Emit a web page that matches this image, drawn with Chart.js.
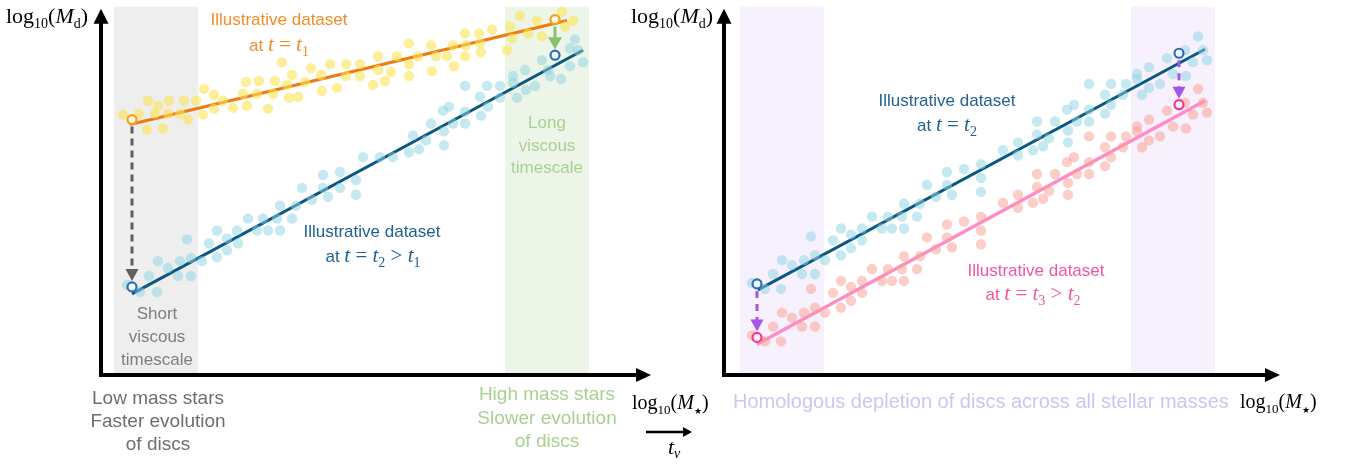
<!DOCTYPE html>
<html>
<head>
<meta charset="utf-8">
<script src="https://cdn.jsdelivr.net/npm/chart.js@4.4.1/dist/chart.umd.min.js"></script>
<style>
  html, body { margin: 0; padding: 0; background: #fff; }
  body { width: 1352px; height: 465px; position: relative; overflow: hidden; }
  canvas { position: absolute; top: 0; }
  #left { left: 0; }
  #right { left: 600px; }
</style>
</head>
<body>
<canvas id="left" width="720" height="465"></canvas>
<canvas id="right" width="752" height="465"></canvas>
<script>
// schematic values (x = log10 M*, y = log10 Md, arbitrary units)
const yellowT1 = [
  [0.44,5.26],[0.76,5.28],[0.92,4.96],[0.94,5.54],[1.08,5.28],[1.14,5.44],[1.24,4.98],[1.34,5.28],
  [1.36,5.54],[1.58,5.28],[1.66,5.54],[1.74,5.16],[1.90,5.54],[2.04,5.26],[2.06,5.78],[2.26,5.66],
  [2.26,5.38],[2.44,5.54],[2.64,5.40],[2.84,5.68],[2.90,5.92],[2.92,5.44],[3.12,5.68],[3.16,5.94],
  [3.34,5.38],[3.44,5.68],[3.48,5.94],[3.62,6.32],[3.72,5.86],[3.76,5.60],[3.82,6.06],[3.94,5.62],
  [4.08,5.92],[4.20,6.20],[4.40,6.06],[4.42,5.74],[4.58,6.28],[4.72,5.80],[4.90,6.28],[4.90,6.04],
  [5.18,6.28],[5.18,6.04],[5.44,5.86],[5.54,6.44],[5.54,6.16],[5.68,5.94],[5.80,6.12],[5.92,6.44],
  [6.16,6.70],[6.16,6.28],[6.16,6.04],[6.34,6.44],[6.60,6.66],[6.62,6.14],[6.70,6.44],[6.92,6.44],
  [7.04,6.66],[7.06,6.24],[7.28,6.90],[7.28,6.44],[7.30,6.66],[7.56,6.90],[7.58,6.70],[7.60,6.52],
  [7.82,6.98],[8.12,6.56],[8.18,7.04],[8.22,6.80],[8.38,7.26],[8.54,6.90],[8.72,7.16],[8.82,6.84],
  [9.22,7.34],[9.28,7.04],[9.44,7.16]
];
const cyanT2Left = [
  [0.52,1.82],[0.78,1.68],[0.96,2.00],[1.12,1.68],[1.14,2.30],[1.34,2.16],[1.54,2.00],[1.58,2.30],
  [1.72,2.74],[1.80,2.00],[1.80,2.36],[2.02,2.30],[2.16,2.66],[2.32,2.92],[2.32,2.38],[2.52,2.76],
  [2.52,2.52],[2.72,2.92],[2.74,2.66],[2.94,3.16],[3.12,2.92],[3.24,3.16],[3.34,2.92],[3.52,3.16],
  [3.58,3.42],[3.58,2.92],[3.82,3.16],[3.90,3.42],[4.02,3.78],[4.22,3.54],[4.44,4.04],[4.44,3.78],
  [4.54,3.60],[4.78,4.10],[4.78,3.78],[5.10,3.94],[5.10,3.64],[5.24,4.40],[5.58,4.40],[5.84,4.40],
  [6.16,4.50],[6.24,4.84],[6.36,4.56],[6.50,4.74],[6.60,5.08],[6.84,5.34],[6.86,4.92],[6.86,4.64],
  [6.96,5.42],[7.04,5.08],[7.28,5.84],[7.28,5.32],[7.28,5.08],[7.58,5.62],[7.60,5.24],[7.72,5.84],
  [7.74,5.42],[7.98,5.84],[7.98,5.60],[8.24,6.04],[8.24,5.90],[8.32,5.60],[8.48,6.16],[8.50,5.76],
  [8.68,5.84],[8.82,6.36],[8.94,6.16],[8.98,6.04],[9.20,5.98],[9.38,6.60],[9.38,6.24],[9.48,6.78],
  [9.54,6.56],[9.64,6.32]
];
const cyanT2Right = [
  [0.56,1.86],[0.82,1.74],[0.98,2.04],[1.14,1.74],[1.16,2.32],[1.36,2.22],[1.56,2.04],[1.60,2.32],
  [1.74,2.80],[1.82,2.04],[1.82,2.42],[2.02,2.32],[2.18,2.72],[2.34,2.96],[2.34,2.42],[2.54,2.84],
  [2.54,2.56],[2.76,2.96],[2.76,2.72],[2.96,3.20],[3.16,2.96],[3.28,3.20],[3.36,2.96],[3.56,3.20],
  [3.60,3.46],[3.60,2.96],[3.86,3.20],[3.92,3.46],[4.06,3.84],[4.24,3.60],[4.46,4.10],[4.46,3.84],
  [4.56,3.64],[4.80,4.16],[5.14,3.98],[5.14,3.70],[5.14,4.26],[5.58,4.54],[5.88,4.70],[5.88,4.44],
  [6.18,4.54],[6.26,5.12],[6.26,4.86],[6.38,4.62],[6.50,4.78],[6.62,5.12],[6.86,5.36],[6.88,4.94],
  [6.88,4.70],[7.00,5.46],[7.06,5.12],[7.30,5.88],[7.30,5.36],[7.30,5.12],[7.62,5.66],[7.62,5.28],
  [7.74,5.88],[7.74,5.46],[7.98,5.66],[8.04,5.88],[8.26,6.08],[8.26,5.98],[8.36,5.66],[8.50,6.22],
  [8.50,5.80],[8.72,5.88],[8.86,6.40],[8.98,6.08],[9.22,6.56],[9.24,6.04],[9.38,6.32],[9.48,6.84],
  [9.58,6.56],[9.66,6.36]
];
const pinkT3 = [
  [0.56,0.80],[0.82,0.68],[0.98,0.98],[1.14,0.68],[1.16,1.26],[1.36,1.16],[1.56,0.98],[1.60,1.26],
  [1.74,1.74],[1.82,0.98],[1.82,1.36],[2.02,1.26],[2.18,1.66],[2.34,1.90],[2.34,1.36],[2.54,1.78],
  [2.54,1.50],[2.76,1.90],[2.76,1.66],[2.96,2.14],[3.16,1.90],[3.28,2.14],[3.36,1.90],[3.56,2.14],
  [3.60,2.40],[3.60,1.90],[3.86,2.14],[3.92,2.40],[4.06,2.78],[4.24,2.54],[4.46,3.04],[4.46,2.78],
  [4.56,2.58],[4.80,3.10],[5.14,2.92],[5.14,2.64],[5.14,3.20],[5.58,3.48],[5.88,3.64],[5.88,3.38],
  [6.18,3.48],[6.26,4.06],[6.26,3.80],[6.38,3.56],[6.50,3.72],[6.62,4.06],[6.86,4.30],[6.88,3.88],
  [6.88,3.64],[7.00,4.40],[7.06,4.06],[7.30,4.82],[7.30,4.30],[7.30,4.06],[7.62,4.60],[7.62,4.22],
  [7.74,4.82],[7.74,4.40],[7.98,4.60],[8.04,4.82],[8.26,5.02],[8.26,4.92],[8.36,4.60],[8.50,5.16],
  [8.50,4.74],[8.72,4.82],[8.86,5.34],[8.98,5.02],[9.22,5.50],[9.24,4.98],[9.38,5.26],[9.48,5.78],
  [9.58,5.50],[9.66,5.30]
];

// trend lines (start, end)
const fitT1 = [[0.58,5.06],[9.32,7.16]];
const fitT2Left = [[0.62,1.64],[9.64,6.56]];
const fitT2Right = [[0.68,1.72],[9.62,6.58]];
const fitT3 = [[0.66,0.62],[9.62,5.54]];

// open circles marking the shift at low / high mass
const markT1 = [[0.62,5.16],[9.08,7.18]];
const markT2Left = [[0.62,1.78],[9.08,6.46]];
const markT2Right = [[0.66,1.84],[9.10,6.50]];
const markT3 = [[0.66,0.76],[9.10,5.46]];

// shaded mass ranges
const bandsLeft = [[0.26,1.94,'#eeeeee'],[8.08,9.76,'#edf5e8']];
const bandsRight = [[0.32,2.00,'#f7f1fd'],[8.14,9.82,'#f7f1fd']];

const SANS = '"Liberation Sans", Arial, sans-serif';
const SERIF = '"Liberation Serif", "DejaVu Serif", serif';

const pts = arr => arr.map(p => ({x: p[0], y: p[1]}));

function scatterSet(arr, color) {
  return { type: 'scatter', data: pts(arr), backgroundColor: color, borderWidth: 0,
           pointRadius: 5.2, order: 2 };
}
function lineSet(arr, color, w) {
  return { type: 'line', data: pts(arr), borderColor: color, borderWidth: w || 3,
           pointRadius: 0, fill: false, order: 3 };
}
function markSet(arr, color, fill) {
  return { type: 'scatter', data: pts(arr), backgroundColor: fill, borderColor: color,
           borderWidth: 2.2, pointRadius: 4.5, order: 1 };
}

// draw text made of pieces (sans / serif italic / subscripts)
function rich(ctx, parts, x, y, align) {
  let w = 0;
  parts.forEach(p => { ctx.font = p.f; w += ctx.measureText(p.t).width; });
  let cx = align === 'center' ? x - w / 2 : (align === 'right' ? x - w : x);
  ctx.textAlign = 'left';
  ctx.textBaseline = 'alphabetic';
  parts.forEach(p => {
    ctx.font = p.f;
    ctx.fillStyle = p.c;
    ctx.fillText(p.t, cx, y + (p.dy || 0));
    cx += ctx.measureText(p.t).width;
  });
}
function at(c, sub1, sub2) {
  const parts = [
    {t: 'at ', f: '17px ' + SANS, c},
    {t: 't', f: 'italic 21px ' + SERIF, c},
    {t: ' = ', f: '21px ' + SERIF, c},
    {t: 't', f: 'italic 21px ' + SERIF, c},
    {t: sub1, f: '14px ' + SERIF, c, dy: 5}
  ];
  if (sub2) {
    parts.push({t: ' > ', f: '21px ' + SERIF, c});
    parts.push({t: 't', f: 'italic 21px ' + SERIF, c});
    parts.push({t: sub2, f: '14px ' + SERIF, c, dy: 5});
  }
  return parts;
}
function logLabel(sym, sub, size) {
  const k = '#000';
  const s = size || 22, ss = Math.round(s * 0.64);
  return [
    {t: 'log', f: s + 'px ' + SERIF, c: k},
    {t: '10', f: ss + 'px ' + SERIF, c: k, dy: 5},
    {t: '(', f: s + 'px ' + SERIF, c: k},
    {t: sym, f: 'italic ' + s + 'px ' + SERIF, c: k},
    {t: sub, f: sub === '\u2605' ? '9px "DejaVu Sans"' : ss + 'px ' + SERIF, c: k, dy: 5},
    {t: ')', f: s + 'px ' + SERIF, c: k}
  ];
}
function centered(ctx, lines, x, y0, step, color, size) {
  ctx.font = (size || 16) + 'px ' + SANS;
  ctx.fillStyle = color;
  ctx.textAlign = 'center';
  ctx.textBaseline = 'alphabetic';
  lines.forEach((s, i) => ctx.fillText(s, x, y0 + i * step));
}

// vertical arrow between two marker circles
function vArrow(ctx, x, yFrom, yTo, color, dash, halfW, headL) {
  ctx.save();
  ctx.strokeStyle = color;
  ctx.fillStyle = color;
  ctx.lineWidth = 3;
  ctx.setLineDash(dash);
  ctx.beginPath();
  ctx.moveTo(x, yFrom);
  ctx.lineTo(x, yTo - headL + 1);
  ctx.stroke();
  ctx.setLineDash([]);
  ctx.beginPath();
  ctx.moveTo(x - halfW, yTo - headL);
  ctx.lineTo(x + halfW, yTo - headL);
  ctx.lineTo(x, yTo);
  ctx.closePath();
  ctx.fill();
  ctx.restore();
}

function axes(ctx, area) {
  const ox = area.left, oy = area.bottom;
  ctx.save();
  ctx.strokeStyle = '#000';
  ctx.fillStyle = '#000';
  ctx.lineWidth = 4;
  ctx.beginPath();
  ctx.moveTo(ox, oy + 2);
  ctx.lineTo(ox, area.top + 14);
  ctx.moveTo(ox - 2, oy);
  ctx.lineTo(area.right - 12, oy);
  ctx.stroke();
  ctx.beginPath();
  ctx.moveTo(ox - 7.5, area.top + 17);
  ctx.lineTo(ox + 7.5, area.top + 17);
  ctx.lineTo(ox, area.top + 2);
  ctx.closePath();
  ctx.fill();
  ctx.beginPath();
  ctx.moveTo(area.right - 15, oy - 7);
  ctx.lineTo(area.right - 15, oy + 7);
  ctx.lineTo(area.right, oy);
  ctx.closePath();
  ctx.fill();
  ctx.restore();
}

function makePlugin(bands, arrows, extra) {
  return {
    id: 'sketch',
    beforeDatasetsDraw(chart) {
      const {ctx, chartArea, scales} = chart;
      bands.forEach(b => {
        const x0 = scales.x.getPixelForValue(b[0]);
        const x1 = scales.x.getPixelForValue(b[1]);
        ctx.fillStyle = b[2];
        ctx.fillRect(x0, chartArea.top, x1 - x0, chartArea.bottom - chartArea.top);
      });
    },
    afterDatasetsDraw(chart) {
      const {ctx, scales} = chart;
      arrows.forEach(a => {
        const x = scales.x.getPixelForValue(a.from[0]);
        const y0 = scales.y.getPixelForValue(a.from[1]) + 7;
        const y1 = scales.y.getPixelForValue(a.to[1]) - 6;
        vArrow(ctx, x, y0, y1, a.color, a.dash, a.halfW, a.headL);
      });
    },
    afterDraw(chart) {
      const {ctx, chartArea} = chart;
      axes(ctx, chartArea);
      extra(ctx, chartArea);
    }
  };
}

function baseOptions(pad, xMax) {
  return {
    responsive: false,
    animation: false,
    layout: { padding: pad },
    plugins: { legend: { display: false }, tooltip: { enabled: false } },
    scales: {
      x: { type: 'linear', min: 0, max: xMax, display: false },
      y: { type: 'linear', min: 0, max: 7.44, display: false }
    }
  };
}

Chart.defaults.devicePixelRatio = 1;

// ---- left panel: viscous timescale depends on stellar mass
new Chart(document.getElementById('left'), {
  type: 'scatter',
  data: {
    datasets: [
      markSet(markT1, '#f5a11f', 'rgba(255,250,225,0.95)'),
      markSet(markT2Left, '#2e6db5', 'rgba(240,250,255,0.95)'),
      scatterSet(yellowT1, 'rgba(252,228,80,0.58)'),
      scatterSet(cyanT2Left, 'rgba(140,211,226,0.5)'),
      lineSet(fitT1, '#ee7a10'),
      lineSet(fitT2Left, '#0b5784')
    ]
  },
  options: baseOptions({left: 101, right: 69, top: 3, bottom: 90}, 11),
  plugins: [makePlugin(bandsLeft, [
    {from: markT1[0], to: markT2Left[0], color: '#5f5f5f', dash: [7, 5], halfW: 6.5, headL: 12},
    {from: markT1[1], to: markT2Left[1], color: '#8dbf72', dash: [], halfW: 7, headL: 12}
  ], (ctx) => {
    rich(ctx, [{t: 'Illustrative dataset', f: '17px ' + SANS, c: '#f28d2c'}], 279, 25, 'center');
    rich(ctx, at('#f28d2c', '1'), 279, 51, 'center');
    rich(ctx, [{t: 'Illustrative dataset', f: '17px ' + SANS, c: '#22628f'}], 372, 237, 'center');
    rich(ctx, at('#22628f', '2', '1'), 373, 262, 'center');
    centered(ctx, ['Short', 'viscous', 'timescale'], 157, 319, 23, '#7e7e7e', 17);
    centered(ctx, ['Long', 'viscous', 'timescale'], 547, 128, 22.5, '#a9d091', 17);
    centered(ctx, ['Low mass stars', 'Faster evolution', 'of discs'], 158, 404, 23, '#6e6e6e', 19);
    centered(ctx, ['High mass stars', 'Slower evolution', 'of discs'], 547, 400, 23.5, '#a9d091', 19);
    rich(ctx, logLabel('M', 'd'), 6, 23, 'left');
    rich(ctx, logLabel('M', '\u2605', 20), 632, 409, 'left');
    // time arrow
    ctx.save();
    ctx.strokeStyle = '#000';
    ctx.fillStyle = '#000';
    ctx.lineWidth = 2.5;
    ctx.beginPath();
    ctx.moveTo(646, 432);
    ctx.lineTo(684, 432);
    ctx.stroke();
    ctx.beginPath();
    ctx.moveTo(683, 427);
    ctx.lineTo(683, 437);
    ctx.lineTo(692, 432);
    ctx.closePath();
    ctx.fill();
    ctx.restore();
    rich(ctx, [
      {t: 't', f: 'italic 22px ' + SERIF, c: '#000'},
      {t: '\u03bd', f: 'italic 14px ' + SERIF, c: '#000', dy: 4}
    ], 668, 454, 'left');
  })]
});

// ---- right panel: homologous depletion
new Chart(document.getElementById('right'), {
  type: 'scatter',
  data: {
    datasets: [
      markSet(markT2Right, '#2e6db5', 'rgba(240,250,255,0.95)'),
      markSet(markT3, '#f0388e', 'rgba(255,240,245,0.95)'),
      scatterSet(cyanT2Right, 'rgba(140,211,226,0.5)'),
      scatterSet(pinkT3, 'rgba(252,160,148,0.52)'),
      lineSet(fitT2Right, '#0b5784'),
      lineSet(fitT3, '#ff8cc4', 3.5)
    ]
  },
  options: baseOptions({left: 124, right: 72, top: 3, bottom: 90}, 11.12),
  plugins: [makePlugin(bandsRight, [
    {from: markT2Right[0], to: markT3[0], color: '#a457e6', dash: [7, 6], halfW: 6.5, headL: 12},
    {from: markT2Right[1], to: markT3[1], color: '#a457e6', dash: [7, 6], halfW: 6.5, headL: 12}
  ], (ctx) => {
    rich(ctx, logLabel('M', 'd'), 31, 23, 'left');
    rich(ctx, [{t: 'Illustrative dataset', f: '17px ' + SANS, c: '#22628f'}], 347, 106, 'center');
    rich(ctx, at('#22628f', '2'), 347, 131, 'center');
    rich(ctx, [{t: 'Illustrative dataset', f: '17px ' + SANS, c: '#f2569f'}], 436, 276, 'center');
    rich(ctx, at('#f2569f', '3', '2'), 433, 300, 'center');
    rich(ctx, [{t: 'Homologous depletion of discs across all stellar masses', f: '20px ' + SANS, c: '#cdc6f0'}],
      133, 408, 'left');
    rich(ctx, logLabel('M', '\u2605', 20), 640, 408, 'left');
  })]
});
</script>
</body>
</html>
